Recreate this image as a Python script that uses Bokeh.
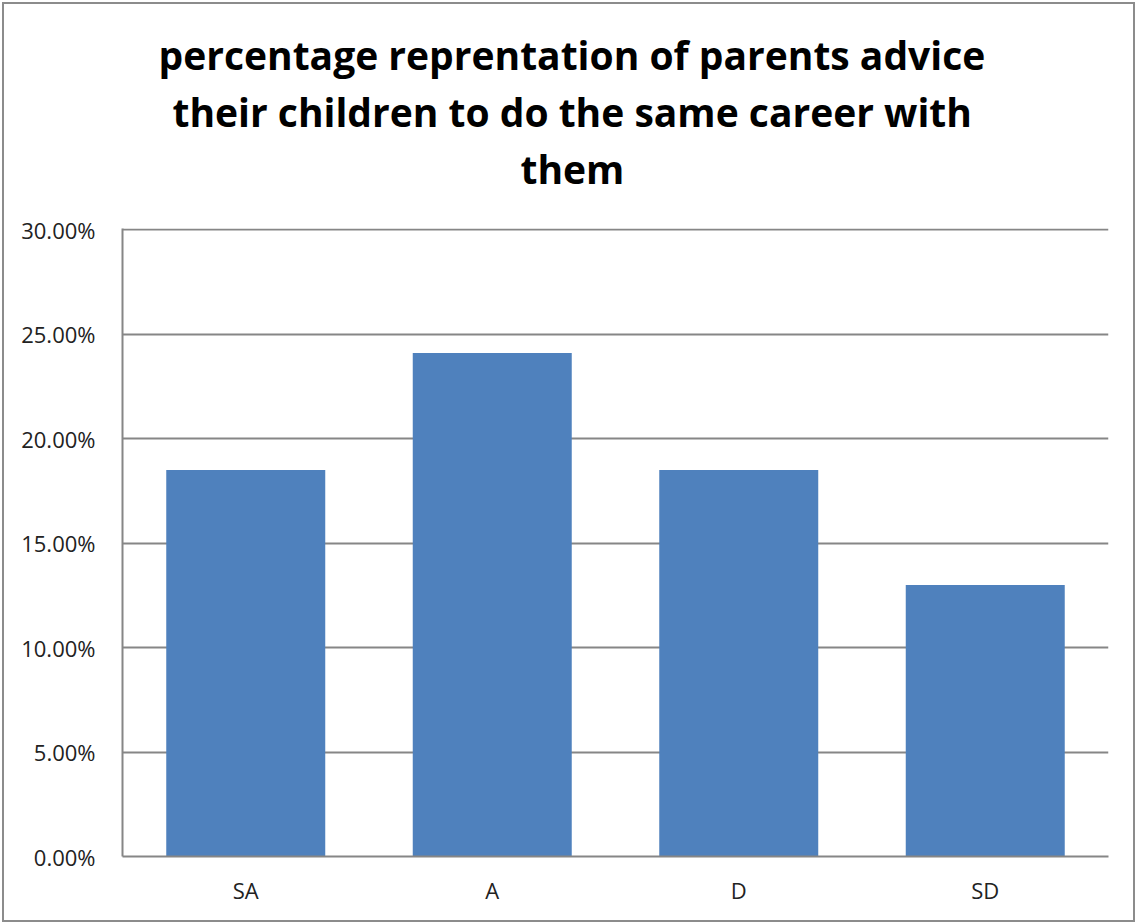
from bokeh.plotting import figure
from bokeh.models import Range1d, FactorRange, NumeralTickFormatter, FixedTicker, Title, InlineStyleSheet
from bokeh.embed import file_html
from bokeh.resources import INLINE

# Survey responses (share of respondents per answer)
categories = ["SA", "A", "D", "SD"]
shares = [0.185, 0.241, 0.185, 0.130]
y_ticks = [0.0, 0.05, 0.10, 0.15, 0.20, 0.25, 0.30]
title_lines = [
    "percentage reprentation of parents advice",
    "their children to do the same career with",
    "them",
]
# left indent of each title line, measured from the plot frame
title_indents = [36, 50, 398]

W, H = 1137, 924
p = figure(
    width=W, height=H,
    x_range=FactorRange(*categories, range_padding=0),
    y_range=Range1d(0, 0.3006),
    output_backend="svg", toolbar_location=None,
    min_border_left=122, min_border_right=29,
    min_border_top=228, min_border_bottom=68,
    title=None,
)
# grey frame around the whole chart, drawn behind a transparent canvas border
p.border_fill_alpha = 0
p.stylesheets = [InlineStyleSheet(css=":host { background-color: white; box-shadow: inset 0 0 0 2px white, inset 0 0 0 4px #8c8c8c, inset 0 0 0 5px white; }")]
p.outline_line_color = None
p.background_fill_color = "white"

p.vbar(x=categories, top=shares, width=0.645, color="#4F81BD", line_color=None)

grey = "#868686"
p.xgrid.grid_line_color = None
p.ygrid.grid_line_color = grey
p.ygrid.grid_line_width = 2

p.yaxis.ticker = FixedTicker(ticks=y_ticks)
p.yaxis.formatter = NumeralTickFormatter(format="0.00%")
for ax in (p.xaxis[0], p.yaxis[0]):
    ax.axis_line_color = grey
    ax.axis_line_width = 2
    ax.major_tick_line_color = None
    ax.minor_tick_line_color = None
    ax.major_label_text_font = "Open Sans"
    ax.major_label_text_font_size = "22px"
    ax.major_label_text_color = "#222222"
p.yaxis.major_label_standoff = 21
p.xaxis.major_label_standoff = 12

# spacer between the plot frame and the title block
p.add_layout(Title(text=" ", text_font_size="2px", standoff=29), "above")

# Three-line bold title; each later Title sits further from the frame
for line, indent in zip(reversed(title_lines), reversed(title_indents)):
    p.add_layout(Title(
        text=line, align="left", offset=indent,
        text_font="Open Sans", text_font_style="bold",
        text_font_size="39px", text_color="black",
        standoff=2,
    ), "above")

open("out.html", "w").write(file_html(p, INLINE))
